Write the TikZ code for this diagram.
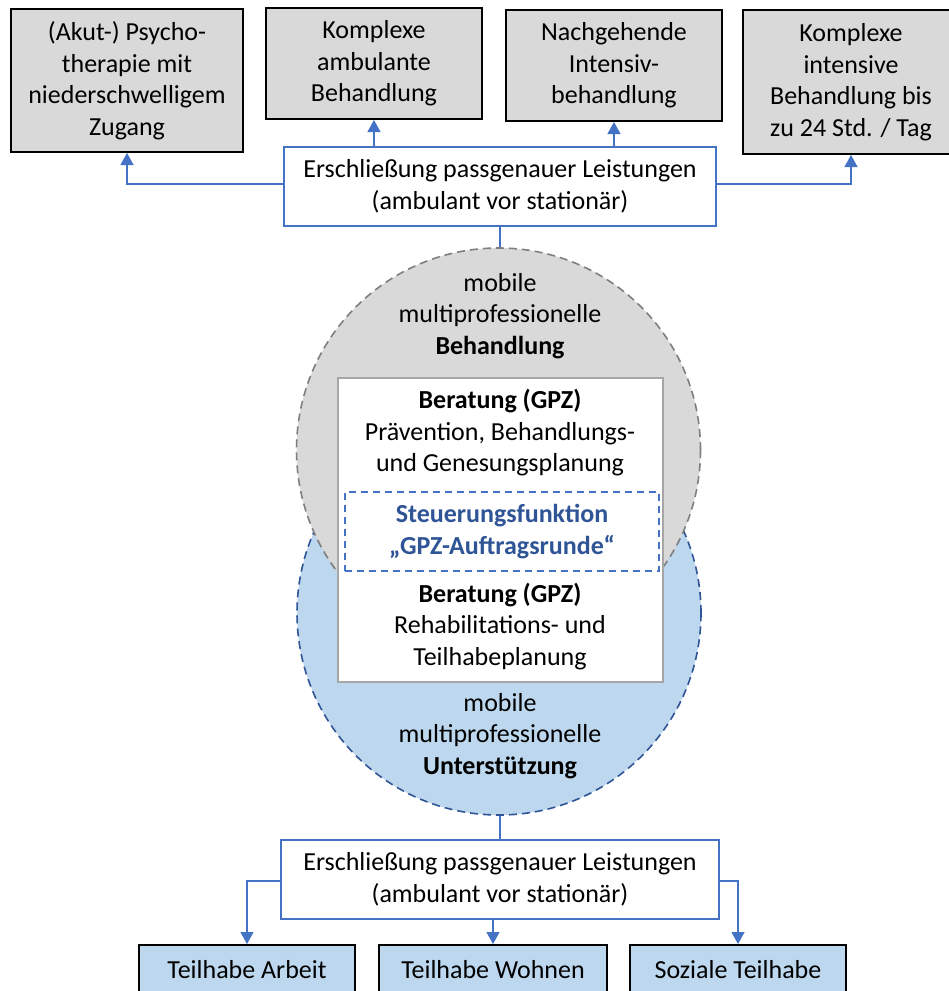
\documentclass[tikz,border=0pt]{standalone}
\usepackage{fontspec}
\setmainfont{Carlito}
\usetikzlibrary{arrows.meta}
\definecolor{boxgray}{HTML}{D9D9D9}
\definecolor{circgray}{HTML}{7F7F7F}
\definecolor{bluefill}{HTML}{BDD7EE}
\definecolor{darkblue}{HTML}{2F5597}
\definecolor{midblue}{HTML}{4472C4}
\definecolor{linegray}{HTML}{A6A6A6}
\newcommand\myfs{\fontsize{26}{31.5}\selectfont}
\begin{document}
\begin{tikzpicture}[x=1pt,y=-1pt,
  gbox/.style={draw=black, line width=2pt, fill=boxgray, align=center, font=\myfs, inner sep=0pt},
  bbox/.style={draw=black, line width=2pt, fill=bluefill, align=center, font=\myfs, inner sep=0pt},
  ebox/.style={draw=midblue, line width=2pt, fill=white, align=center, font=\myfs, inner sep=0pt},
  txt/.style={align=center, font=\myfs, inner sep=0pt},
  conn/.style={draw=midblue, line width=1.3pt, -{Triangle[width=13pt,length=12pt]}},
  vline/.style={draw=midblue, line width=1.6pt}]
\clip (0,0) rectangle (949,991);
\fill[white] (0,0) rectangle (949,991);

% top boxes
\node[gbox, minimum width=232pt, minimum height=143pt] (b1) at (127,80.5) {(Akut-) Psycho-\\therapie mit\\niederschwelligem\\Zugang};
\node[gbox, minimum width=216pt, minimum height=111pt] (b2) at (374,63.5) {Komplexe\\ambulante\\Behandlung};
\node[gbox, minimum width=216pt, minimum height=111pt] (b3) at (614,65.5) {Nachgehende\\Intensiv-\\behandlung};
\node[gbox, minimum width=216pt, minimum height=144pt] (b4) at (851,82) {Komplexe\\intensive\\Behandlung bis\\zu 24 Std. / Tag};

\node[ebox, minimum width=432pt, minimum height=79pt] (etop) at (500,186.5) {Erschließung passgenauer Leistungen\\(ambulant vor stationär)};

% circles
\node[circle, minimum size=404pt, fill=bluefill, draw=darkblue, line width=1.6pt, dash pattern=on 8pt off 5pt] (bc) at (499,613) {};
\node[circle, minimum size=404pt, fill=boxgray, draw=circgray, line width=1.6pt, dash pattern=on 8pt off 5pt] (gc) at (498.5,450) {};

\node[txt] (tg) at (500,316) {mobile\\multiprofessionelle\\\textbf{Behandlung}};
\node[txt] (tb) at (500,736) {mobile\\multiprofessionelle\\\textbf{Unterstützung}};

% central box
\node[draw=linegray, line width=2pt, fill=white, minimum width=325pt, minimum height=304pt, inner sep=0pt] (wb) at (500.5,530) {};
\node[txt] (r1) at (500,433) {\textbf{Beratung (GPZ)}\\Prävention, Behandlungs-\\und Genesungsplanung};
\node[draw=midblue, line width=1.6pt, dash pattern=on 7pt off 5pt, minimum width=314pt, minimum height=79pt, inner sep=0pt, align=center, font=\myfs\bfseries, text=darkblue] (st) at (502,531.5) {Steuerungsfunktion\\„GPZ-Auftragsrunde“};
\node[txt] (r2) at (500,626.5) {\textbf{Beratung (GPZ)}\\Rehabilitations- und\\Teilhabeplanung};

% bottom
\node[ebox, minimum width=438pt, minimum height=79pt] (ebot) at (500,879.5) {Erschließung passgenauer Leistungen\\(ambulant vor stationär)};
\node[bbox, minimum width=216pt, minimum height=50pt] (a1) at (247,970) {Teilhabe Arbeit};
\node[bbox, minimum width=228pt, minimum height=50pt] (a2) at (493,970) {Teilhabe Wohnen};
\node[bbox, minimum width=216pt, minimum height=50pt] (a3) at (738,970) {Soziale Teilhabe};

% connectors
\draw[conn] ([yshift=2.5pt]etop.west) -| (b1.south);
\draw[conn] (b2.south |- etop.north) -- (b2.south);
\draw[conn] (b3.south |- etop.north) -- (b3.south);
\draw[conn] ([yshift=2.5pt]etop.east) -| (b4.south);
\draw[vline] (etop.south) -- (etop.south |- gc.north);
\draw[vline] (ebot.north |- bc.south) -- (ebot.north);
\draw[conn] ([yshift=-1.5pt]ebot.west) -| (a1.north);
\draw[conn] (a2.north |- ebot.south) -- (a2.north);
\draw[conn] ([yshift=-1.5pt]ebot.east) -| (a3.north);
\end{tikzpicture}
\end{document}
